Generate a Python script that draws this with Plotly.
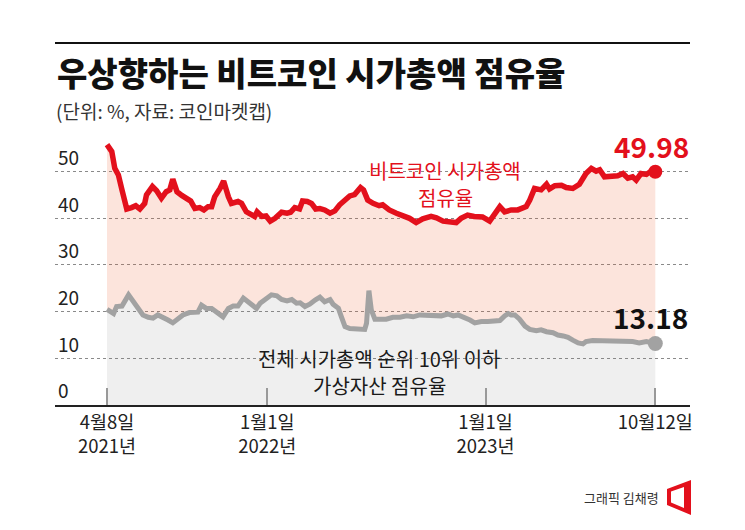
import plotly.graph_objects as go

# ---------------- data ----------------
btc_dates = ["2021-04-08","2021-04-16","2021-04-21","2021-04-27","2021-05-03","2021-05-11","2021-05-19","2021-05-26",
             "2021-06-02","2021-06-10","2021-06-13","2021-06-23","2021-06-30","2021-07-08","2021-07-16","2021-07-22",
             "2021-07-27","2021-08-03","2021-08-11","2021-08-19","2021-08-26","2021-09-02","2021-09-10","2021-09-17",
             "2021-09-24","2021-09-30","2021-10-05","2021-10-14","2021-10-20","2021-10-28","2021-11-02","2021-11-13",
             "2021-11-19","2021-11-27","2021-12-06","2021-12-11","2021-12-15","2021-12-23","2021-12-30","2022-01-06",
             "2022-01-14","2022-01-25","2022-02-03","2022-02-09","2022-02-16","2022-02-24","2022-03-01","2022-03-09",
             "2022-03-16","2022-03-23","2022-03-30","2022-04-07","2022-04-16","2022-04-24","2022-05-02","2022-05-11",
             "2022-05-19","2022-05-27","2022-06-06","2022-06-11","2022-06-18","2022-06-27","2022-07-07","2022-07-13",
             "2022-07-24","2022-08-05","2022-08-16","2022-08-27","2022-09-07","2022-09-18","2022-10-02","2022-10-11",
             "2022-10-22","2022-11-02","2022-11-13","2022-11-21","2022-12-02","2022-12-13","2022-12-27","2023-01-08",
             "2023-01-20","2023-01-25","2023-02-02","2023-02-13","2023-02-24","2023-03-10","2023-03-16","2023-03-24",
             "2023-04-04","2023-04-13","2023-04-18","2023-04-27","2023-05-08","2023-05-16","2023-05-27","2023-06-07",
             "2023-06-18","2023-06-27","2023-07-05","2023-07-11","2023-07-19","2023-07-30","2023-08-10","2023-08-19",
             "2023-08-27","2023-09-04","2023-09-10","2023-09-18","2023-09-27","2023-10-06","2023-10-12"]
btc_vals = [55.8,54.3,50.7,49.3,46.1,42.0,42.3,42.7,
            42.0,43.2,45.0,46.8,45.9,44.3,45.7,46.1,
            48.4,45.7,44.9,44.3,43.7,42.1,42.3,41.8,
            42.5,42.5,44.6,46.4,48.0,44.6,43.2,43.6,
            43.2,41.4,40.9,40.4,41.4,40.4,40.5,39.4,
            40.0,41.3,41.1,41.3,42.3,42.0,43.7,43.6,
            43.2,42.0,42.1,41.8,41.1,41.6,42.9,43.9,
            44.8,45.1,46.6,46.1,43.9,43.2,42.7,42.9,
            41.8,41.1,40.6,40.0,39.1,39.9,40.4,40.1,
            39.4,39.1,39.1,40.0,40.7,40.4,40.3,39.4,
            41.8,42.5,41.4,41.8,41.8,42.5,43.9,46.4,
            46.1,47.3,46.3,47.0,47.1,46.6,46.4,47.3,
            49.6,50.7,50.1,50.4,48.9,48.9,49.1,49.6,
            48.6,48.9,48.2,49.6,49.4,50.2,49.98]

alt_dates = ["2021-04-08","2021-04-13","2021-04-19","2021-04-24","2021-05-03","2021-05-14","2021-05-22","2021-05-30",
             "2021-06-07","2021-06-16","2021-06-24","2021-07-02","2021-07-11","2021-07-19","2021-07-27","2021-08-05",
             "2021-08-13","2021-08-24","2021-09-07","2021-09-13","2021-09-21","2021-09-30","2021-10-08","2021-10-19",
             "2021-10-28","2021-11-05","2021-11-13","2021-11-22","2021-12-03","2021-12-14","2021-12-20","2021-12-28",
             "2022-01-08","2022-01-17","2022-01-25","2022-02-03","2022-02-11","2022-02-19","2022-02-25","2022-03-05",
             "2022-03-13","2022-03-22","2022-03-30","2022-04-07","2022-04-16","2022-04-21","2022-04-30","2022-05-05",
             "2022-05-11","2022-05-19","2022-05-30","2022-06-13","2022-06-16","2022-06-20","2022-06-24","2022-06-30",
             "2022-07-08","2022-07-19","2022-07-30","2022-08-11","2022-08-22","2022-09-02","2022-09-13","2022-09-24",
             "2022-10-02","2022-10-11","2022-10-19","2022-10-30","2022-11-08","2022-11-16","2022-11-24","2022-12-06",
             "2022-12-14","2022-12-25","2023-01-05","2023-01-17","2023-01-25","2023-02-02","2023-02-08","2023-02-13",
             "2023-02-19","2023-02-27","2023-03-08","2023-03-16","2023-03-27","2023-04-04","2023-04-13","2023-04-24",
             "2023-05-02","2023-05-11","2023-05-19","2023-05-27","2023-06-05","2023-06-13","2023-06-18","2023-06-29",
             "2023-07-11","2023-07-22","2023-08-02","2023-08-13","2023-08-24","2023-09-04","2023-09-15","2023-09-27",
             "2023-10-12"]
alt_vals = [20.5,20.0,19.6,21.1,21.2,23.6,22.1,20.4,
            19.3,18.8,18.6,19.3,18.8,18.2,17.6,18.6,
            19.3,19.8,19.9,21.4,20.7,20.7,20.0,18.9,
            20.7,21.2,21.2,22.9,21.8,20.7,21.8,22.5,
            23.6,23.4,22.6,22.3,22.6,21.8,21.9,21.1,
            21.6,22.5,23.1,22.1,22.6,21.6,20.7,18.9,
            16.8,16.4,16.2,16.2,17.5,24.5,20.4,18.4,
            18.4,18.4,18.8,18.8,19.1,18.9,19.3,19.3,
            19.1,19.3,19.1,19.5,19.1,19.3,18.9,18.2,
            17.6,17.9,17.9,18.1,18.1,19.1,19.6,19.3,
            19.3,18.4,16.9,16.2,15.9,16.1,15.7,15.5,
            15.0,14.8,14.5,13.9,13.3,13.1,13.6,13.8,
            13.8,13.8,13.7,13.8,13.6,13.6,13.3,13.6,
            13.18]

tick_dates = ["2021-04-08", "2022-01-01", "2023-01-01", "2023-10-12"]
tick_labels = ["4월8일<br>2021년", "1월1일<br>2022년", "1월1일<br>2023년", "10월12일"]
y_ticks = [0, 10, 20, 30, 40, 50]

title_text = "우상향하는 비트코인 시가총액 점유율"
subtitle_text = "(단위: %, 자료: 코인마켓캡)"
btc_label_lines = ["비트코인 시가총액", "점유율"]
alt_label_lines = ["전체 시가총액 순위 10위 이하", "가상자산 점유율"]
credit_text = "그래픽 김채령"

# ---------------- layout helpers ----------------
W, H = 745, 530
L, R, T, B = 55, 55, 135, 125
PW, PH = W - L - R, H - T - B


def px(xp):
    return (xp - L) / PW


def py(yp):
    return (H - B - yp) / PH


FONT = "Noto Sans CJK KR"
RED = "#e3101c"
GRAY = "#a2a2a2"

fig = go.Figure()

fig.add_trace(go.Scatter(
    x=alt_dates, y=alt_vals, mode="lines",
    line=dict(color=GRAY, width=5),
    fill="tozeroy", fillcolor="rgba(120,120,120,0.12)",
    hoverinfo="skip", showlegend=False))

fig.add_trace(go.Scatter(
    x=btc_dates, y=btc_vals, mode="lines",
    line=dict(color=RED, width=5.5),
    fill="tonexty", fillcolor="rgba(238,95,50,0.17)",
    hoverinfo="skip", showlegend=False))

fig.add_trace(go.Scatter(
    x=[alt_dates[-1]], y=[alt_vals[-1]], mode="markers",
    marker=dict(color=GRAY, size=15), hoverinfo="skip", showlegend=False))
fig.add_trace(go.Scatter(
    x=[btc_dates[-1]], y=[btc_vals[-1]], mode="markers",
    marker=dict(color=RED, size=14), hoverinfo="skip", showlegend=False))

annotations = [
    dict(x=btc_dates[-1], y=btc_vals[-1], xref="x", yref="y", text=f"{btc_vals[-1]:.2f}",
         showarrow=False, yshift=26, xshift=-4, font=dict(family=FONT, size=28, color=RED, weight=700)),
    dict(x=alt_dates[-1], y=alt_vals[-1], xref="x", yref="y", text=f"{alt_vals[-1]:.2f}",
         showarrow=False, yshift=26, xshift=-5, font=dict(family=FONT, size=28, color="#111", weight=700)),
    dict(x=px(55), y=py(72), xref="paper", yref="paper", text=title_text, showarrow=False,
         xanchor="left", yanchor="middle", font=dict(family=FONT, size=33, color="#111", weight=900)),
    dict(x=px(54), y=py(110), xref="paper", yref="paper", text=subtitle_text, showarrow=False,
         xanchor="left", yanchor="middle", font=dict(family=FONT, size=19, color="#333")),
    dict(x=px(661), y=py(497), xref="paper", yref="paper", text=credit_text, showarrow=False,
         xanchor="right", yanchor="middle", font=dict(family=FONT, size=13, color="#333")),
]

# two-line in-chart labels, one annotation per line
for text, yp in zip(btc_label_lines, [170, 197]):
    annotations.append(dict(x=px(445), y=py(yp), xref="paper", yref="paper", text=text,
                            showarrow=False, xanchor="center", yanchor="middle",
                            font=dict(family=FONT, size=20, color=RED)))
for text, yp in zip(alt_label_lines, [358, 385]):
    annotations.append(dict(x=px(379), y=py(yp), xref="paper", yref="paper", text=text,
                            showarrow=False, xanchor="center", yanchor="middle",
                            font=dict(family=FONT, size=20, color="#1a1a1a")))

shapes = [
    dict(type="line", xref="paper", yref="paper", x0=px(55), x1=px(690), y0=py(43), y1=py(43),
         line=dict(color="#111", width=2)),
    dict(type="path", xref="paper", yref="paper",
         path=(f"M {px(667)} {py(489)} L {px(691)} {py(480)} L {px(691)} {py(515)} L {px(667)} {py(505)} Z "
               f"M {px(671)} {py(491.5)} L {px(684)} {py(487)} L {px(684)} {py(508)} L {px(671)} {py(502.5)} Z"),
         fillcolor=RED, line=dict(width=0), fillrule="evenodd"),
]

fig.update_layout(
    width=W, height=H,
    margin=dict(l=L, r=R, t=T, b=B),
    paper_bgcolor="white", plot_bgcolor="white",
    font=dict(family=FONT, color="#222"),
    annotations=annotations, shapes=shapes,
    showlegend=False,
)

fig.update_xaxes(
    type="date", range=["2021-01-11", "2023-12-09"],
    tickvals=tick_dates, ticktext=tick_labels,
    ticks="inside", ticklen=17, tickwidth=1.5, tickcolor="#999",
    showgrid=False, zeroline=False,
    showline=True, linecolor="#222", linewidth=2,
    tickfont=dict(family=FONT, size=18.5, color="#222"),
    layer="above traces", fixedrange=True,
)

fig.update_yaxes(
    range=[0, (H - B - T) / 4.667], tickvals=y_ticks,
    ticklabelposition="inside top", ticks="",
    showgrid=True, gridcolor="#8a8a8a", griddash="dot", gridwidth=1,
    zeroline=False, showline=False,
    tickfont=dict(family=FONT, size=19, color="#222"),
    fixedrange=True,
)

fig.write_html("out.html", config={"displayModeBar": False},
               post_script="document.body.style.margin='0';document.body.style.padding='0';")
